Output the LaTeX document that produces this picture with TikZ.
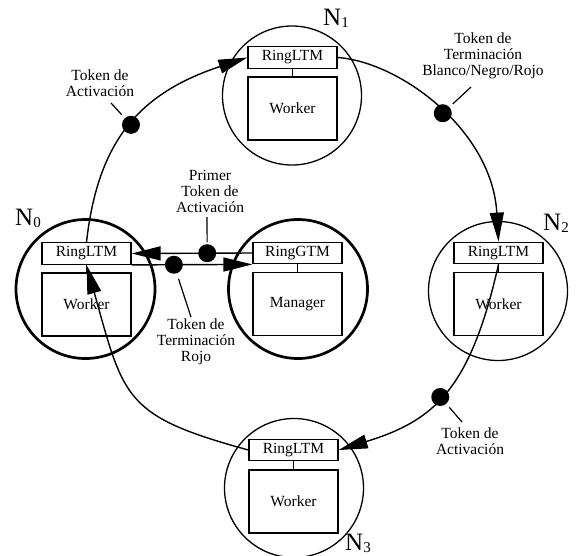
\documentclass[tikz,border=0pt]{standalone}
\usepackage{fontspec}
\setmainfont{Liberation Serif}
\usetikzlibrary{arrows.meta}
\newcommand{\nsub}[1]{N\raisebox{-2.5pt}{\fontsize{15}{15}\selectfont #1}}
\begin{document}
\begin{tikzpicture}[x=1pt,y=-1pt,
  txt/.style={font=\fontsize{15.5}{16}\selectfont},
  pe/.style={draw, circle, minimum size=139pt, inner sep=0pt, line width=1.3pt},
  pethick/.style={pe, line width=2.7pt},
  ringbox/.style={draw, line width=1.3pt, minimum width=89pt, minimum height=21.5pt, inner sep=0pt, txt},
  workbox/.style={draw, line width=1.3pt, minimum width=89pt, minimum height=63pt, inner sep=0pt, txt},
  link/.style={line width=1.4pt, -{Triangle[length=29pt,width=14pt]}},
  dotn/.style={circle, fill=black, minimum size=18pt, inner sep=0pt},
  lbl/.style={txt, align=center, inner sep=0pt},
  leader/.style={line width=1.2pt},
  nlab/.style={font=\fontsize{25}{25}\selectfont, inner sep=0pt, anchor=base west}
]
\useasboundingbox (0,0) rectangle (576,555);

% N0
\node[pethick] (c0) at (85.5,289) {};
\node[ringbox] (r0) at (86.5,253.5) {RingLTM};
\node[workbox] (w0) at (86.5,304.5) {Worker};
\draw[line width=1.3pt] (r0.south) -- (w0.north);
% N1
\node[pe] (c1) at (292,95.5) {};
\node[ringbox] (r1) at (292.5,57.5) {RingLTM};
\node[workbox] (w1) at (292.5,108.5) {Worker};
\draw[line width=1.3pt] (r1.south) -- (w1.north);
% N2
\node[pe] (c2) at (498,291) {};
\node[ringbox] (r2) at (498.5,253) {RingLTM};
\node[workbox] (w2) at (498.5,304) {Worker};
\draw[line width=1.3pt] (r2.south) -- (w2.north);
% N3
\node[pe] (c3) at (294,488) {};
\node[ringbox] (r3) at (293.5,450) {RingLTM};
\node[workbox] (w3) at (293.5,501.5) {Worker};
\draw[line width=1.3pt] (r3.south) -- (w3.north);
% Manager
\node[pethick] (cg) at (298,289) {};
\node[ringbox] (rg) at (297.5,253) {RingGTM};
\node[workbox] (wg) at (297.5,304) {Manager};
\draw[line width=1.3pt] (rg.south) -- (wg.north);

% ring connectors
\draw[link] (r0.north) .. controls (98,140) and (140,93) .. (r1.west) node[dotn,pos=0.5] (d1) {};
\draw[link] (r1.east) .. controls (400,62) and (492,130) .. (r2.north) node[dotn,pos=0.52] (d2) {};
\draw[link] (r2.south) .. controls (470,391) and (433,421) .. (r3.east) node[dotn,pos=0.52] (d3) {};
\draw[link] (r3.west) .. controls (124,416) and (124,399) .. (r0.south);

% manager links
\draw[link] (rg.west) -- (r0.east) node[dotn,pos=0.374] (d4) {};
\draw[link] (r0.south east) -- (rg.south west) node[dotn,pos=0.35] (d5) {};

% labels
\node[lbl] (la) at (100,83) {Token de\\Activación};
\node[lbl] (lb) at (483,56) {Token de\\Terminación\\Blanco/Negro/Rojo};
\node[lbl] (lc) at (470,441) {Token de\\Activación};
\node[lbl] (ld) at (210,191) {Primer\\Token de\\Activación};
\node[lbl] (le) at (196,342) {Token de\\Terminación\\Rojo};

\coordinate (qa) at (111,103);
\coordinate (qb) at (471,87);
\coordinate (qc) at (462,422);
\coordinate (qd) at (207,217);
\coordinate (qe) at (191,317);
\draw[leader, shorten >=4pt] (qa) -- (d1);
\draw[leader, shorten >=4pt] (qb) -- (d2);
\draw[leader, shorten >=4pt] (qc) -- (d3);
\draw[leader, shorten >=1pt] (qd) -- (d4);
\draw[leader, shorten >=5pt] (qe) -- (d5);

% node names
\node[nlab] (n0) at (15,225) {\nsub{0}};
\node[nlab] (n1) at (323,25) {\nsub{1}};
\node[nlab] (n2) at (543,230) {\nsub{2}};
\node[nlab] (n3) at (345,550) {\nsub{3}};
\end{tikzpicture}
\end{document}
